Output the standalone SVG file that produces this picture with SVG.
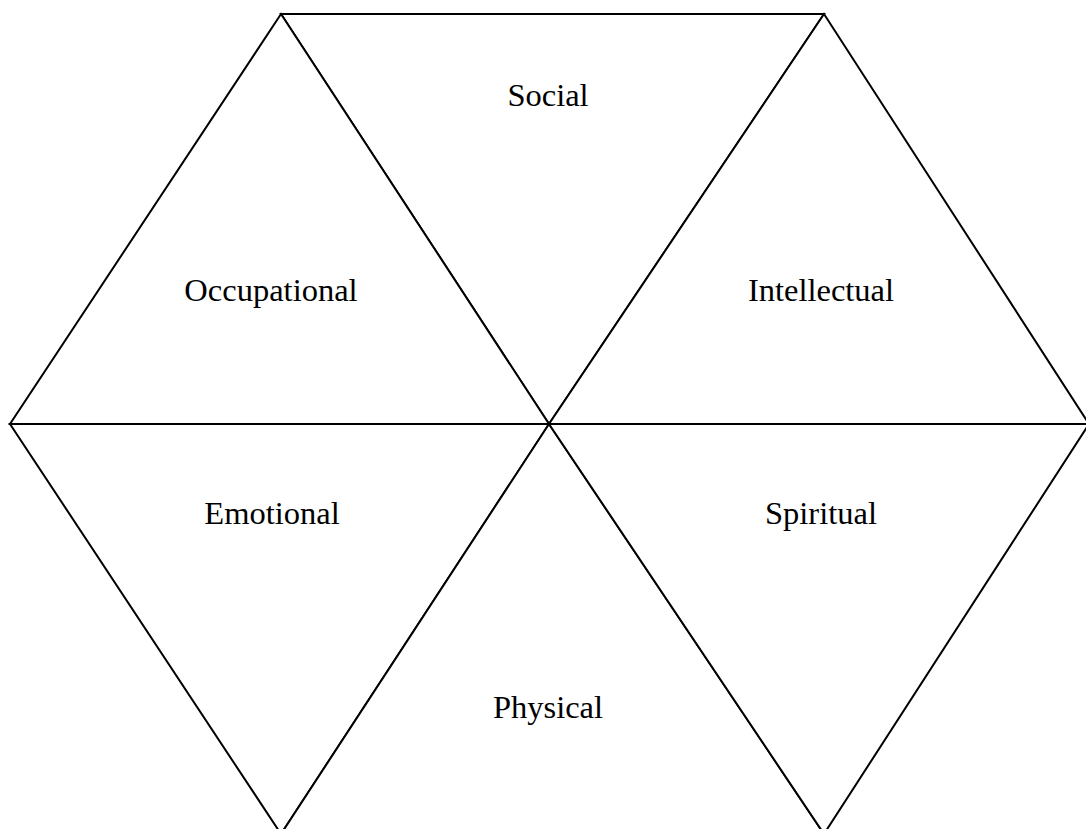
<svg xmlns="http://www.w3.org/2000/svg" width="1086" height="829" viewBox="0 0 1086 829">
<style>
.tri{fill:#fff;stroke:#000;stroke-width:2;stroke-linejoin:miter}
.lbl{font-family:"Liberation Serif",serif;font-size:32.5px;fill:#000;text-anchor:middle}
</style>
<rect width="1086" height="829" fill="#fff"/>
<g id="connectors"></g>
<g id="social"><polygon class="tri" points="281,14 824,14 549,424"/><text class="lbl" x="548" y="106">Social</text></g>
<g id="occupational"><polygon class="tri" points="281,14 10,424 549,424"/><text class="lbl" x="271" y="301">Occupational</text></g>
<g id="intellectual"><polygon class="tri" points="824,14 549,424 1089,424"/><text class="lbl" x="821" y="301">Intellectual</text></g>
<g id="emotional"><polygon class="tri" points="10,424 549,424 281,834"/><text class="lbl" x="272" y="524">Emotional</text></g>
<g id="physical"><polygon class="tri" points="549,424 281,834 824,834"/><text class="lbl" x="548" y="718">Physical</text></g>
<g id="spiritual"><polygon class="tri" points="549,424 1089,424 824,834"/><text class="lbl" x="821" y="524">Spiritual</text></g>
</svg>
